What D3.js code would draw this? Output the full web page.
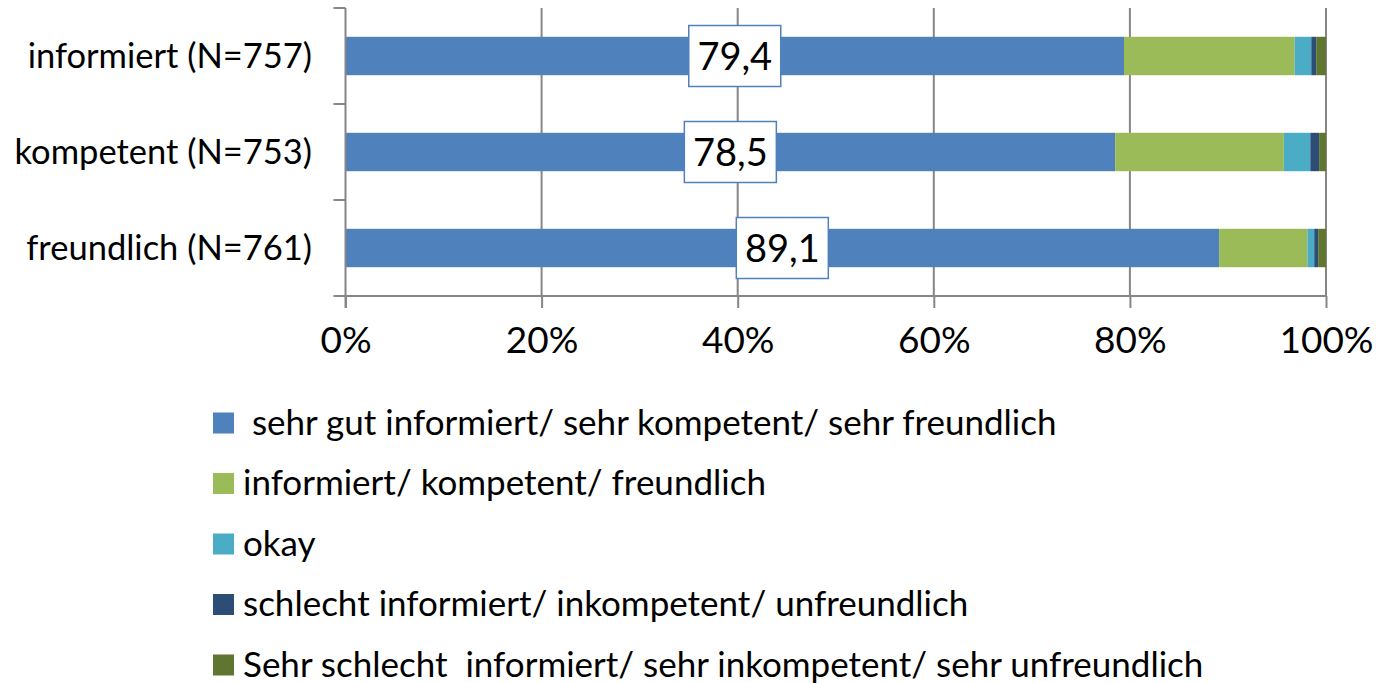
<!DOCTYPE html>
<html><head><meta charset="utf-8">
<script src="https://cdn.jsdelivr.net/npm/d3@7"></script>
<style>body{margin:0;background:#fff}svg{display:block}text{font-family:Lato,"Open Sans",sans-serif;fill:#000}</style>
</head><body><svg id="c" width="1377" height="683"></svg>
<script>
const categories = ["informiert (N=757)", "kompetent (N=753)", "freundlich (N=761)"];
const seriesNames = [" sehr gut informiert/ sehr kompetent/ sehr freundlich", "informiert/ kompetent/ freundlich", "okay", "schlecht informiert/ inkompetent/ unfreundlich", "Sehr schlecht  informiert/ sehr inkompetent/ sehr unfreundlich"];
const sehrGut = [79.4, 78.5, 89.1];
const gut = [17.4, 17.2, 9.0];
const okay = [1.7, 2.7, 0.7];
const schlecht = [0.5, 0.9, 0.4];
const sehrSchlecht = [1.0, 0.7, 0.8];
const dataLabels = ["79,4", "78,5", "89,1"];
const xTicks = [0, 20, 40, 60, 80, 100];
const colors = ["#4F81BD", "#9BBB59", "#4BACC6", "#2C4D75", "#5F7530"];

const series = [sehrGut, gut, okay, schlecht, sehrSchlecht];
const svg = d3.select("#c");
const x = d3.scaleLinear().domain([0, 100]).range([345.5, 1326]);
const y = d3.scaleBand().domain(categories).range([8, 296]).paddingInner(0.6).paddingOuter(0.3);
const yOuter = d3.scaleBand().domain(categories).range([8, 296]);

// gridlines
svg.append("g").selectAll("line").data(xTicks.slice(1)).join("line")
  .attr("x1", d => x(d)).attr("x2", d => x(d)).attr("y1", 8).attr("y2", 296)
  .attr("stroke", "#868686").attr("stroke-width", 2);

// stacked bars
const rows = categories.map((c, i) => {
  let acc = 0;
  return series.map((s, k) => { const r = {cat: c, k, x0: acc, x1: acc + s[i]}; acc += s[i]; return r; });
});
svg.append("g").selectAll("g").data(rows).join("g").selectAll("rect").data(d => d).join("rect")
  .attr("x", d => x(d.x0)).attr("width", d => x(d.x1) - x(d.x0))
  .attr("y", d => y(d.cat)).attr("height", y.bandwidth())
  .attr("fill", d => colors[d.k]);

// axes
const yAxis = d3.axisLeft(yOuter).tickSize(0).tickFormat("");
const gy = svg.append("g").attr("transform", "translate(345.5,0)").call(yAxis);
gy.select(".domain").attr("stroke", "#868686").attr("stroke-width", 2).attr("d", "M0,8V308");
gy.selectAll(".tickmark").data([8, 104, 200, 296]).join("line").attr("class", "tickmark")
  .attr("x1", -12).attr("x2", 0).attr("y1", d => d).attr("y2", d => d)
  .attr("stroke", "#868686").attr("stroke-width", 2);

const xAxis = d3.axisBottom(x).tickValues(xTicks).tickSize(12).tickPadding(18).tickFormat(d => d + "%");
const gx = svg.append("g").attr("transform", "translate(0,296)").call(xAxis);
gx.select(".domain").attr("stroke", "#868686").attr("stroke-width", 2).attr("d", "M334,0H1326");
gx.selectAll(".tick line").attr("stroke", "#868686").attr("stroke-width", 2);
gx.selectAll(".tick text").attr("font-size", 37).attr("font-family", "Lato").attr("fill", "#000").attr("dy", "0.72em");

// category labels
svg.append("g").selectAll("text").data(categories).join("text")
  .attr("x", 312).attr("y", d => y(d) + y.bandwidth() / 2).attr("dy", "0.36em")
  .attr("text-anchor", "end").attr("font-size", 34.5).text(d => d);

// data labels
const lbl = svg.append("g").selectAll("g").data(categories).join("g")
  .attr("transform", (d, i) => `translate(${x(sehrGut[i] / 2)},${y(d) + y.bandwidth() / 2})`);
lbl.append("rect").attr("x", -46).attr("y", -30.5).attr("width", 92).attr("height", 61)
  .attr("fill", "#fff").attr("stroke", "#4F81BD").attr("stroke-width", 1.5);
lbl.append("text").attr("text-anchor", "middle").attr("dy", "0.36em").attr("font-size", 38)
  .text((d, i) => dataLabels[i]);

// legend
const lg = svg.append("g").selectAll("g").data(seriesNames).join("g")
  .attr("transform", (d, i) => `translate(213,${423 + i * 60.5})`);
lg.append("rect").attr("x", 0).attr("y", -10.5).attr("width", 21).attr("height", 21).attr("fill", (d, i) => colors[i]);
lg.append("text").attr("x", 30).attr("dy", "0.34em").attr("font-size", 35).attr("xml:space", "preserve")
  .style("white-space", "pre").text(d => d);
</script></body></html>
